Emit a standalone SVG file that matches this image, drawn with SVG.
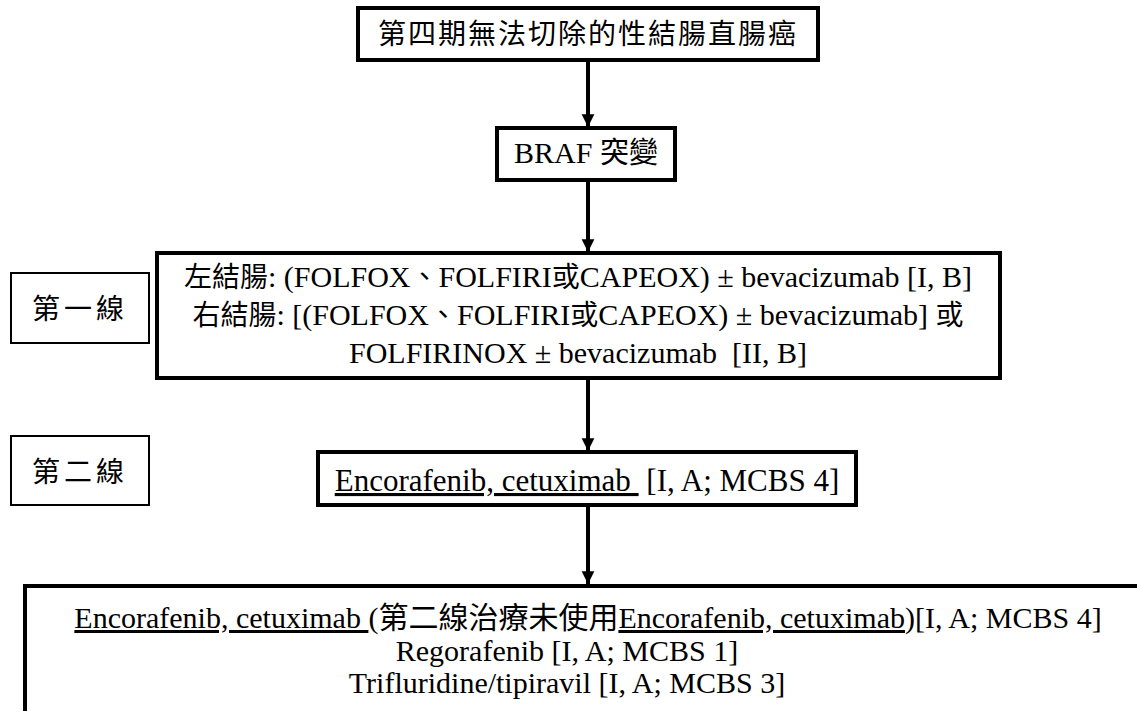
<svg xmlns="http://www.w3.org/2000/svg" width="1137" height="711" viewBox="0 0 1137 711">
<style>
text{font-family:'Liberation Serif','Times New Roman',Times,serif;font-size:30px;fill:#000;text-anchor:middle;white-space:pre}
.k{font-family:'Noto Sans CJK TC','Noto Sans CJK SC',sans-serif;font-size:28px}
.b{fill:#fff;stroke:#000;stroke-width:4}
.s{fill:#fff;stroke:#000;stroke-width:2}
.u{text-decoration:underline}
.c{stroke:#000;stroke-width:4;fill:none}
</style>
<defs>
<marker id="ah" viewBox="0 0 10 10" refX="10" refY="5" markerWidth="3.2" markerHeight="3.5" orient="auto" markerUnits="strokeWidth">
<path d="M0,0 L10,5 L0,10 Z" fill="#000"/>
</marker>
</defs>
<g id="connectors">
<line class="c" x1="588" y1="60" x2="588" y2="127" marker-end="url(#ah)"/>
<line class="c" x1="588" y1="180" x2="588" y2="252" marker-end="url(#ah)"/>
<line class="c" x1="588" y1="378" x2="588" y2="451" marker-end="url(#ah)"/>
<line class="c" x1="588" y1="505" x2="588" y2="584" marker-end="url(#ah)"/>
</g>
<g id="title">
<rect class="b" x="358" y="8" width="460" height="52"/>
<text x="588" y="44" letter-spacing="2"><tspan class="k">第四期無法切除的性結腸直腸癌</tspan></text>
</g>
<g id="braf">
<rect class="b" x="497" y="128" width="178" height="52"/>
<text x="586" y="163">BRAF <tspan class="k" style="font-size:29px">突變</tspan></text>
</g>
<g id="label1">
<rect class="s" x="11" y="273" width="138" height="70"/>
<text x="80" y="319" letter-spacing="4"><tspan class="k">第一線</tspan></text>
</g>
<g id="first">
<rect class="b" x="157" y="253" width="843" height="125"/>
<text x="578" y="287"><tspan class="k">左結腸</tspan>: (FOLFOX<tspan class="k">、</tspan>FOLFIRI<tspan class="k">或</tspan>CAPEOX) ± bevacizumab [I, B]</text>
<text x="578" y="325"><tspan class="k">右結腸</tspan>: [(FOLFOX<tspan class="k">、</tspan>FOLFIRI<tspan class="k">或</tspan>CAPEOX) ± bevacizumab] <tspan class="k">或</tspan></text>
<text x="578" y="363">FOLFIRINOX ± bevacizumab  [II, B]</text>
</g>
<g id="label2">
<rect class="s" x="11" y="436" width="138" height="69"/>
<text x="80" y="482" letter-spacing="4"><tspan class="k">第二線</tspan></text>
</g>
<g id="second">
<rect class="b" x="318" y="452" width="538" height="53"/>
<text x="587" y="491" style="font-size:31px"><tspan class="u">Encorafenib, cetuximab </tspan> [I, A; MCBS 4]</text>
</g>
<g id="third">
<rect class="b" x="25" y="586" width="1120" height="130"/>
<text x="588" y="628"><tspan class="u">Encorafenib, cetuximab </tspan>(<tspan class="k" style="font-size:30px">第二線治療未使用</tspan><tspan class="u">Encorafenib, cetuximab</tspan>)[I, A; MCBS 4]</text>
<text x="567" y="661">Regorafenib [I, A; MCBS 1]</text>
<text x="567" y="693">Trifluridine/tipiravil [I, A; MCBS 3]</text>
</g>
</svg>
